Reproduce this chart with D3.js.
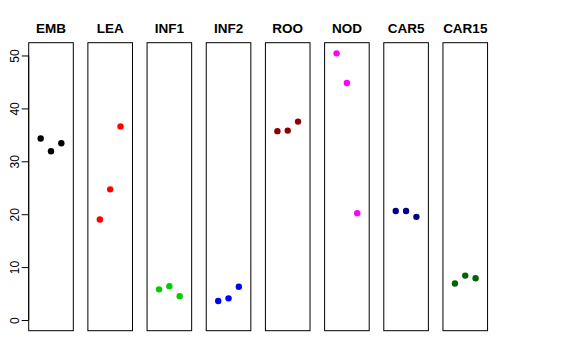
<!DOCTYPE html>
<html><head><meta charset="utf-8">
<script src="https://cdn.jsdelivr.net/npm/d3@7"></script>
<style>body{margin:0;background:#fff}svg{display:block}</style>
</head><body>
<script>
const categories = ["EMB","LEA","INF1","INF2","ROO","NOD","CAR5","CAR15"];
const colors = ["#000000","#FF0000","#00CD00","#0000FF","#8B0000","#FF00FF","#00008B","#006400"];
const rep1 = [34.3, 19.0, 5.8, 3.6, 35.7, 50.4, 20.6, 6.9];
const rep2 = [31.9, 24.7, 6.4, 4.1, 35.8, 44.8, 20.6, 8.4];
const rep3 = [33.4, 36.6, 4.5, 6.3, 37.5, 20.2, 19.5, 7.9];
const yTicks = [0, 10, 20, 30, 40, 50];

(function () {
const W = 576, H = 360;
const svg = d3.select("body").append("svg").attr("width", W).attr("height", H);
const plotTop = 42.7, plotBottom = 330.7;
const panelW = 44.6, step = 59.18, left0 = 28.7;

const yMax = d3.max([...rep1, ...rep2, ...rep3]);
const pad = yMax * 0.04;
const y = d3.scaleLinear().domain([0 - pad, yMax + pad]).range([plotBottom, plotTop]);

categories.forEach((c, i) => {
  const x0 = left0 + i * step;
  const x = d3.scaleLinear().domain([-0.16, 4.16]).range([x0, x0 + panelW]);
  const g = svg.append("g");
  g.append("rect").attr("x", x0).attr("y", plotTop).attr("width", panelW).attr("height", plotBottom - plotTop)
    .attr("fill", "none").attr("stroke", "#000").attr("stroke-width", 1);
  const vals = [rep1[i], rep2[i], rep3[i]];
  g.selectAll("circle").data(vals).enter().append("circle")
    .attr("cx", (d, j) => x(j + 1)).attr("cy", d => y(d)).attr("r", 3.2)
    .attr("fill", colors[i]);
  g.append("text").attr("x", x0 + panelW / 2).attr("y", 33)
    .attr("text-anchor", "middle").attr("font-family", "Liberation Sans, Arial, sans-serif")
    .attr("font-weight", "bold").attr("font-size", 13.5).text(c);
});

const ax = svg.append("g").attr("transform", `translate(${left0},0)`)
  .call(d3.axisLeft(y).tickValues(yTicks).tickSize(7).tickSizeOuter(0).tickPadding(0));
ax.select(".domain").attr("d", `M0,${y(0)}V${y(50)}`).attr("stroke", "#000");
ax.selectAll(".tick line").attr("stroke", "#000");
ax.selectAll(".tick text")
  .attr("font-family", "Liberation Sans, Arial, sans-serif").attr("font-size", 12).attr("fill", "#000")
  .attr("text-anchor", "middle").attr("dy", null)
  .attr("transform", "translate(-14,0) rotate(-90)").attr("x", 0).attr("y", 0)
  .attr("dominant-baseline", "central");
})();
</script>
</body></html>
